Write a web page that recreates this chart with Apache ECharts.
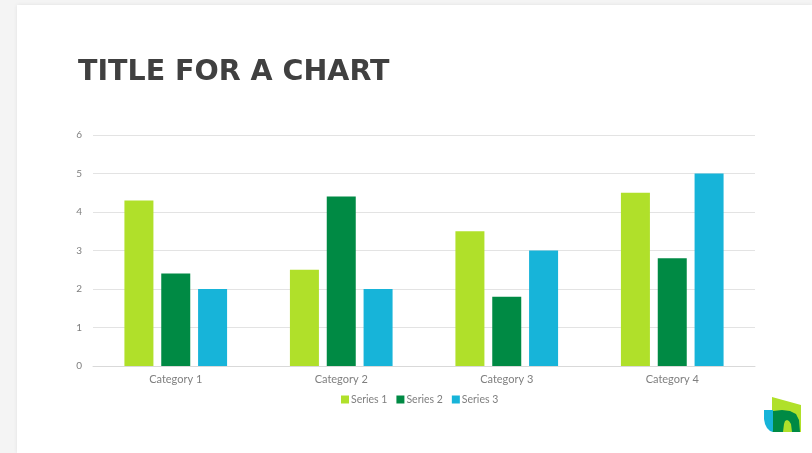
<!DOCTYPE html>
<html>
<head>
<meta charset="utf-8">
<script src="https://cdn.jsdelivr.net/npm/echarts@6/dist/echarts.min.js"></script>
<style>
html,body{margin:0;padding:0;background:#f4f4f4;}
#card{position:absolute;left:17px;top:5px;width:795px;height:448px;background:#fff;box-shadow:0 0 4px rgba(0,0,0,0.08);}
#chart{position:absolute;left:0;top:0;width:812px;height:453px;}
</style>
</head>
<body>
<div id="card"></div>
<div id="chart"></div>
<script>
const categories = ['Category 1', 'Category 2', 'Category 3', 'Category 4'];
const series1 = [4.3, 2.5, 3.5, 4.5];
const series2 = [2.4, 4.4, 1.8, 2.8];
const series3 = [2, 2, 3, 5];
const seriesNames = ['Series 1', 'Series 2', 'Series 3'];
const colors = ['#b0e02a', '#008a44', '#17b4d9'];

const chart = echarts.init(document.getElementById('chart'));
const font = 'Lato, "Open Sans", sans-serif';
chart.setOption({
  backgroundColor: 'transparent',
  animation: false,
  color: colors,
  title: {
    text: 'TITLE FOR A CHART',
    left: 73, top: 53,
    textStyle: { fontFamily: '"DejaVu Sans", sans-serif', fontWeight: 'bold', fontSize: 28.5, color: '#404040' }
  },
  legend: {
    data: seriesNames,
    left: 336, top: 389,
    icon: 'rect', itemWidth: 8, itemHeight: 8, itemGap: 9,
    textStyle: { fontFamily: font, fontSize: 10.5, color: '#7f7f7f', padding: [0, 0, 0, -3] }
  },
  grid: { left: 93, right: 57, top: 135, bottom: 87 },
  xAxis: {
    type: 'category', data: categories,
    axisLine: { lineStyle: { color: '#d9d9d9' } },
    axisTick: { show: false },
    axisLabel: { fontFamily: font, fontSize: 11, color: '#7f7f7f', margin: 8 }
  },
  yAxis: {
    type: 'value', min: 0, max: 6, interval: 1,
    axisLine: { show: false }, axisTick: { show: false },
    axisLabel: { fontFamily: font, fontSize: 10, color: '#7f7f7f', margin: 11 },
    splitLine: { lineStyle: { color: '#e3e3e3' } }
  },
  series: [
    { name: seriesNames[0], type: 'bar', data: series1, barWidth: 29, barGap: '27%' },
    { name: seriesNames[1], type: 'bar', data: series2, barWidth: 29, barGap: '27%' },
    { name: seriesNames[2], type: 'bar', data: series3, barWidth: 29, barGap: '27%' }
  ],
  graphic: [
    { type: 'polygon', shape: { points: [[772,397],[801,405],[801,432],[772,432]] }, style: { fill: '#b0e02a' } },
    { type: 'polygon', shape: { points: [[764,410],[773,410],[773,432],[770,431],[767,428],[765,424],[764,419]] }, style: { fill: '#17b4d9' } },
    { type: 'polygon', shape: { points: [[773,432],[773,411],[782,410],[790,411],[796,414],[799,420],[800,432],[792,432],[791,424],[789,421],[787,420],[785,421],[784,424],[783,432]] }, style: { fill: '#008a44' } }
  ]
});
</script>
</body>
</html>
